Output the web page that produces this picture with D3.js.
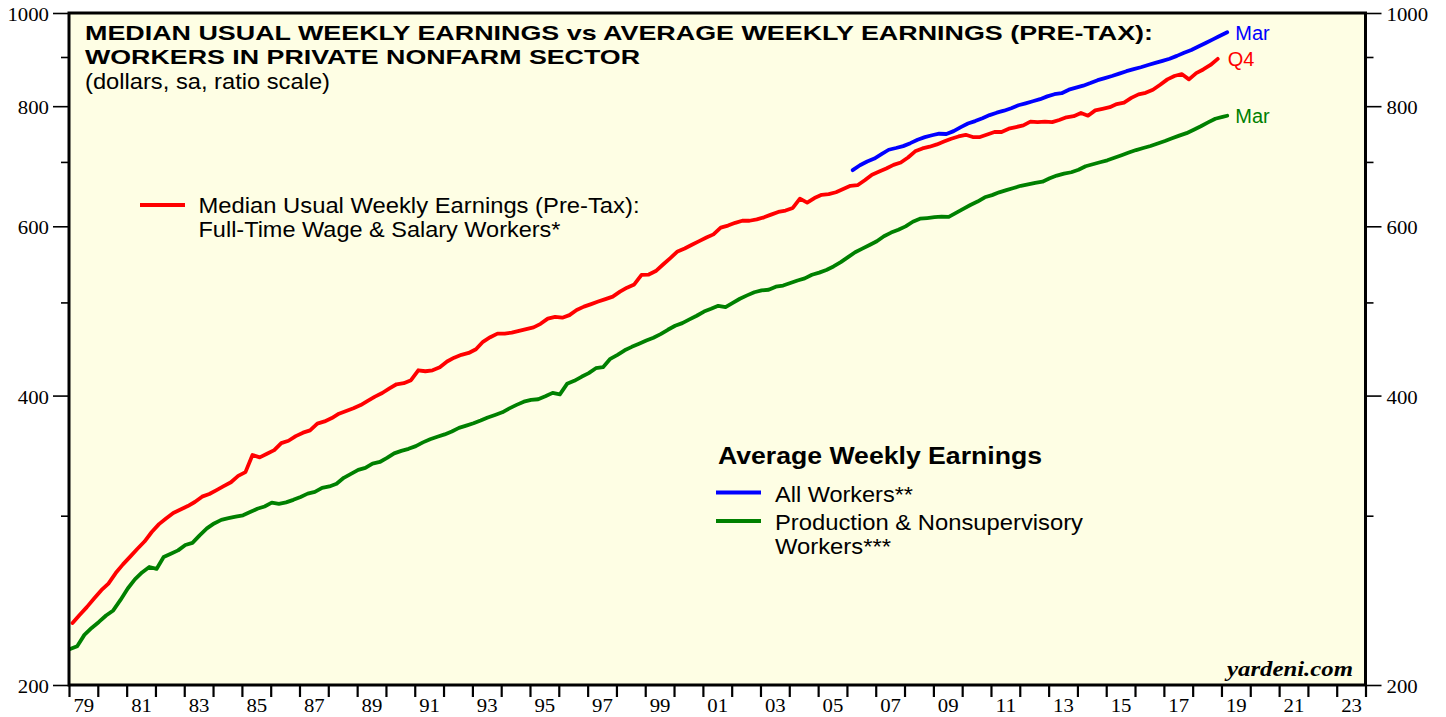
<!DOCTYPE html>
<html>
<head>
<meta charset="utf-8">
<script src="https://cdn.jsdelivr.net/npm/d3@7"></script>
<style>
  body { margin: 0; background: #fff; }
  svg { display: block; }
  text { font-family: "Liberation Sans", Arial, sans-serif; fill: #000; }
  .axis text { font-family: "Liberation Serif", "Times New Roman", serif; font-size: 18px; fill: #000; }
  .axis line { stroke: #000; }
</style>
</head>
<body>
<div id="chart"></div>
<script>
// median usual weekly earnings, full-time wage & salary workers, quarterly 1979Q1 - 2018Q4
var medianWeekly = [
    232, 236.5, 241, 246,   251, 255, 261.5, 267,   272, 277, 282, 288.5,   294, 298, 302, 304.5,
    307, 310, 314, 316,     319, 322, 325, 330,     333, 347, 345, 348,     351, 357, 359, 363,
    366, 368, 374, 376,     379, 383, 385.5, 388,   391, 395, 399, 402.5,   407, 411, 412, 415,
    425, 424, 425, 428,     434, 438, 441, 443,     447, 455, 460, 464,     464, 465, 467, 469,
    471, 475, 481, 483,     482, 485, 491, 495,     498, 501, 504, 507,     513, 518, 522, 534,
    534.5, 539, 547.5, 556, 565, 569, 574, 579,     584, 588.5, 598, 601,   605, 608, 608, 610,
    613, 617, 621, 623,     627, 641, 635, 642,     647, 648, 651, 656,     661, 662, 670, 679,
    684, 689, 695, 699,     707.5, 718, 723, 726,   730, 735, 740, 744,     747, 743, 743, 747.5,
    752, 752, 758, 761,     764, 771, 770, 771,     770, 774, 779, 781,     787, 782, 792, 795,
    798, 804, 807, 816,     823, 826, 832, 842,     853, 860, 864, 853,     866, 873.5, 883, 896
];

// average weekly earnings, production & nonsupervisory: Jan/Apr/Jul/Oct 1979 - Jan 2019, then Mar 2019
var prodWeekly = [
    218.0, 219.5, 225.5, 229.3,  232.6, 236.2, 239.1, 245.2,  252.0, 257.6, 261.9, 265.3,
    264.1, 271.8, 273.9, 276.1,  279.7, 281.1, 286.2, 291.0,  294.5, 297.0, 298.2, 299.3,
    300.3, 302.6, 305.0, 306.7,  309.5, 308.6, 309.7, 311.6,  313.8, 316.3, 317.6, 320.7,
    321.8, 323.8, 328.5, 331.6,  334.8, 336.4, 339.9, 341.2,  344.5, 348.3, 350.4, 352.1,
    354.4, 357.6, 360.3, 362.5,  364.5, 367.1, 370.2, 372.2,  374.3, 376.8, 379.6, 381.9,
    384.3, 387.9, 391.2, 394.2,  395.9, 396.5, 399.3, 402.6,  401.2, 411.4, 414.4, 418.4,
    422.1, 427.1, 428.2, 436.8,  441.0, 445.8, 449.5, 452.8,  456.3, 459.4, 463.4, 468.3,
    472.8, 475.8, 480.1, 484.3,  489.2, 492.4, 495.9, 494.4,  499.5, 504.4, 508.5, 512.3,
    514.6, 515.4, 519.2, 520.6,  523.8, 527.0, 529.6, 534.2,  537.0, 540.4, 545.0, 550.7,
    557.3, 563.9, 568.8, 573.7,  578.8, 585.9, 591.0, 595.1,  599.9, 606.6, 611.0, 612.0,
    613.2, 613.9, 613.6, 619.5,  625.5, 631.4, 636.6, 643.2,  646.5, 650.8, 654.2, 657.6,
    661.1, 663.5, 665.9, 667.7,  673.0, 677.5, 680.6, 682.9,  687.0, 692.8, 696.1, 699.5,
    702.7, 706.9, 711.4, 715.9,  720.2, 723.7, 727.3, 731.7,  735.9, 740.7, 745.5, 749.9,
    756.2, 762.5, 769.5, 776.3,  779.7, 781.9
];

// average weekly earnings, all workers: Mar/Jun/Sep/Dec 2006 - Mar 2019
var allWeekly = [
    686.3, 694.5, 700.7, 705.7,  713.0, 720.7, 723.7, 727.0,  732.2, 738.2, 742.8, 746.2,
    748.9, 748.4, 753.6, 760.9,  767.4, 771.9, 777.3, 783.1,  787.6, 791.4, 796.1, 801.7,
    805.5, 809.4, 813.5, 819.0,  823.2, 825.2, 832.2, 836.2,  840.2, 845.5, 851.4, 855.7,
    860.0, 864.9, 869.9, 874.1,  878.1, 882.9, 887.3, 891.8,  896.3, 902.4, 909.2, 915.3,
    922.7, 930.7, 938.8, 947.1,  954.8
];

var yMajor = [200, 400, 600, 800, 1000];
var yMinor = [300, 500, 700, 900];
var yearLabels = ["79", "81", "83", "85", "87", "89", "91", "93", "95", "97", "99", "01",
    "03", "05", "07", "09", "11", "13", "15", "17", "19", "21", "23"];

var width = 1446;
var height = 717;
var plotLeft = 69, plotRight = 1365.5, plotTop = 13, plotBottom = 685;

var x = d3.scaleTime()
    .domain([new Date(1979, 0, 1), new Date(2024, 0, 1)])
    .range([plotLeft, plotRight]);

var y = d3.scaleLog()
    .domain([200, 1000])
    .range([plotBottom, plotTop]);

var svg = d3.select("#chart")
    .append("svg")
    .attr("width", width)
    .attr("height", height);

svg.append("rect")
    .attr("x", plotLeft)
    .attr("y", plotTop)
    .attr("width", plotRight - plotLeft)
    .attr("height", plotBottom - plotTop)
    .attr("fill", "#fefee4");

// dates for each series
var medianData = medianWeekly.map(function (v, i) {
    return { date: new Date(1979, i * 3 + 1, 15), value: v };
});
var prodData = prodWeekly.map(function (v, i) {
    var dt = i < prodWeekly.length - 1 ? new Date(1979, i * 3, 15) : new Date(2019, 2, 15);
    return { date: dt, value: v };
});
var allData = allWeekly.map(function (v, i) {
    return { date: new Date(2006, i * 3 + 2, 15), value: v };
});

var line = d3.line()
    .x(function (d) { return x(d.date); })
    .y(function (d) { return y(d.value); });

var series = [
    { data: prodData, colour: "#008000", label: "Mar" },
    { data: medianData, colour: "#ff0000", label: "Q4" },
    { data: allData, colour: "#0000ff", label: "Mar" }
];

svg.selectAll("path.series")
    .data(series)
    .enter()
    .append("path")
    .attr("class", "series")
    .attr("d", function (d) { return line(d.data); })
    .attr("fill", "none")
    .attr("stroke", function (d) { return d.colour; })
    .attr("stroke-width", 3.8)
    .attr("stroke-linejoin", "round")
    .attr("stroke-linecap", "round");

// end labels
var endOffsets = [[8, 7], [10, 7], [8, 7.5]];
svg.selectAll("text.endlabel")
    .data(series)
    .enter()
    .append("text")
    .attr("class", "endlabel")
    .attr("x", function (d, i) { return x(d.data[d.data.length - 1].date) + endOffsets[i][0]; })
    .attr("y", function (d, i) { return y(d.data[d.data.length - 1].value) + endOffsets[i][1]; })
    .style("font-size", "20px")
    .style("fill", function (d) { return d.colour; })
    .text(function (d) { return d.label; });

// frame
svg.append("rect")
    .attr("x", plotLeft)
    .attr("y", plotTop)
    .attr("width", plotRight - plotLeft)
    .attr("height", plotBottom - plotTop)
    .attr("fill", "none")
    .attr("stroke", "#000")
    .attr("stroke-width", 3);

function stretchLabels(g) {
    g.selectAll(".tick text")
        .attr("textLength", function () { return this.textContent.length * 10.4; })
        .attr("lengthAdjust", "spacingAndGlyphs");
}

// left axis
svg.append("g")
    .attr("class", "axis")
    .attr("transform", "translate(" + plotLeft + ",0)")
    .call(d3.axisLeft(y).tickValues(yMajor).tickSize(16).tickPadding(4).tickFormat(d3.format("d")))
    .call(function (g) { g.select(".domain").remove(); })
    .call(function (g) { g.selectAll(".tick text").attr("dy", "0.42em"); })
    .call(stretchLabels);
svg.append("g")
    .attr("class", "axis")
    .attr("transform", "translate(" + plotLeft + ",0)")
    .call(d3.axisLeft(y).tickValues(yMinor).tickSize(8).tickFormat(""))
    .call(function (g) { g.select(".domain").remove(); });

// right axis
svg.append("g")
    .attr("class", "axis")
    .attr("transform", "translate(" + plotRight + ",0)")
    .call(d3.axisRight(y).tickValues(yMajor).tickSize(16).tickPadding(5).tickFormat(d3.format("d")))
    .call(function (g) { g.select(".domain").remove(); })
    .call(function (g) { g.selectAll(".tick text").attr("dy", "0.42em"); })
    .call(stretchLabels);
svg.append("g")
    .attr("class", "axis")
    .attr("transform", "translate(" + plotRight + ",0)")
    .call(d3.axisRight(y).tickValues(yMinor).tickSize(8).tickFormat(""))
    .call(function (g) { g.select(".domain").remove(); });

svg.selectAll(".axis line").attr("stroke-width", 1.6);

// bottom axis: yearly ticks, labels on odd years at mid-year
svg.append("g")
    .attr("class", "axis")
    .attr("transform", "translate(0," + plotBottom + ")")
    .call(d3.axisBottom(x).ticks(d3.timeYear.every(1)).tickSize(12).tickFormat(""))
    .call(function (g) { g.select(".domain").remove(); })
    .call(function (g) { g.selectAll("line").attr("stroke-width", 2.2); });

svg.append("g")
    .attr("class", "axis")
    .attr("transform", "translate(0," + plotBottom + ")")
    .call(d3.axisBottom(x)
        .tickValues(yearLabels.map(function (s, i) { return new Date(1979 + 2 * i, 6, 2); }))
        .tickSize(0)
        .tickPadding(14)
        .tickFormat(function (d, i) { return yearLabels[i]; }))
    .call(function (g) { g.select(".domain").remove(); })
    .call(stretchLabels);

// titles
function addText(str, xPos, yPos, size, weight, len) {
    return svg.append("text")
        .attr("x", xPos)
        .attr("y", yPos)
        .attr("textLength", len)
        .attr("lengthAdjust", "spacingAndGlyphs")
        .style("font-size", size + "px")
        .style("font-weight", weight)
        .text(str);
}

addText("MEDIAN USUAL WEEKLY EARNINGS vs AVERAGE WEEKLY EARNINGS (PRE-TAX):", 85, 40, 21, "bold", 1068);
addText("WORKERS IN PRIVATE NONFARM SECTOR", 85, 63.5, 21, "bold", 555);
addText("(dollars, sa, ratio scale)", 85, 89, 22, "normal", 245);

// legend, median
svg.append("line")
    .attr("x1", 140).attr("x2", 185)
    .attr("y1", 205).attr("y2", 205)
    .attr("stroke", "#ff0000").attr("stroke-width", 4);
addText("Median Usual Weekly Earnings (Pre-Tax):", 198.5, 213.3, 22, "normal", 441);
addText("Full-Time Wage & Salary Workers*", 198.5, 237.3, 22, "normal", 362);

// legend, average weekly earnings
addText("Average Weekly Earnings", 718, 463.5, 23, "bold", 324);
svg.append("line")
    .attr("x1", 716).attr("x2", 761)
    .attr("y1", 492.5).attr("y2", 492.5)
    .attr("stroke", "#0000ff").attr("stroke-width", 4);
addText("All Workers**", 775, 501.7, 22, "normal", 138);
svg.append("line")
    .attr("x1", 716).attr("x2", 761)
    .attr("y1", 521).attr("y2", 521)
    .attr("stroke", "#008000").attr("stroke-width", 4);
addText("Production & Nonsupervisory", 775, 530, 22, "normal", 308);
addText("Workers***", 775, 553.5, 22, "normal", 116);

svg.append("text")
    .attr("x", 1353)
    .attr("y", 676)
    .attr("text-anchor", "end")
    .attr("textLength", 126)
    .attr("lengthAdjust", "spacingAndGlyphs")
    .style("font-family", "'Liberation Serif', 'Times New Roman', serif")
    .style("font-size", "20px")
    .style("font-weight", "bold")
    .style("font-style", "italic")
    .text("yardeni.com");
</script>
</body>
</html>
